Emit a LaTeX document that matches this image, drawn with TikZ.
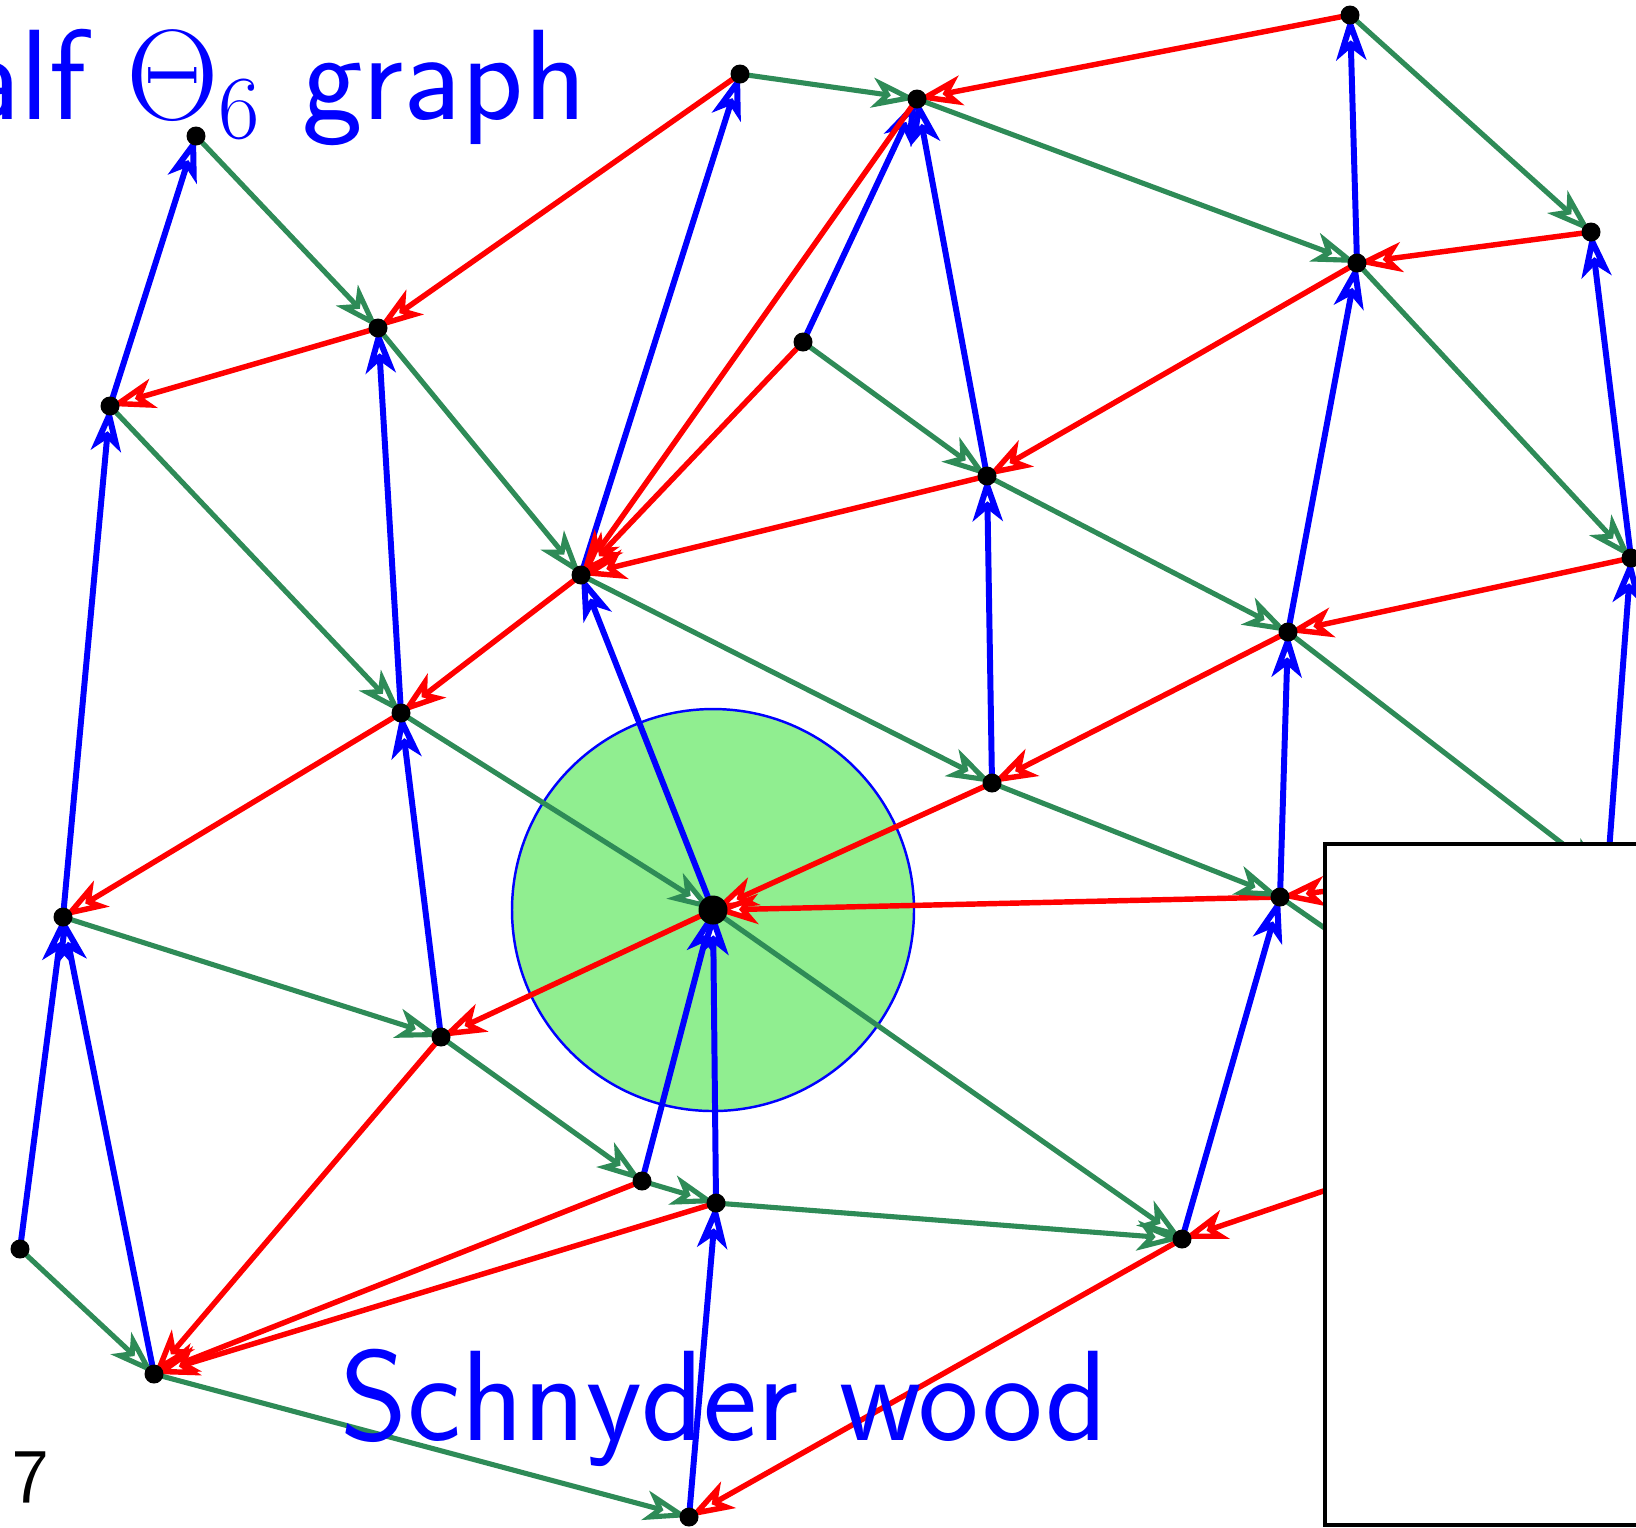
\RequirePackage{fix-cm}
\documentclass[tikz,border=0pt]{standalone}
\usepackage{tikz}
\usetikzlibrary{arrows.meta,backgrounds}
\definecolor{SWblue}{RGB}{0,0,255}
\definecolor{SWred}{RGB}{255,0,0}
\definecolor{SWgreen}{RGB}{46,139,87}
\definecolor{DiskGreen}{RGB}{144,238,144}
\tikzset{
  vtx/.style={circle,fill=black,minimum size=1.9mm,inner sep=0pt},
  hub/.style={vtx,minimum size=2.9mm},
  tb/.style={-{Stealth[length=4.5mm,width=3mm,inset=1.2mm,fill=white]},
             line width=1.7pt,SWblue},
  tr/.style={-{Stealth[length=4.5mm,width=3mm,inset=1.2mm,fill=white]},
             line width=1.55pt,SWred},
  tg/.style={-{Stealth[length=4.5mm,width=3mm,inset=1.2mm,fill=white]},
             line width=1.45pt,SWgreen},
  disk/.style={fill=DiskGreen,draw=SWblue,line width=0.7pt},
  cover/.style={fill=white,draw=black,line width=0.9pt},
  ttl/.style={text=SWblue,inner sep=0pt,
              font=\sffamily\fontsize{36.6}{44}\selectfont},
}

\begin{document}
\begin{tikzpicture}[x=0.1mm,y=-0.1mm]
  \useasboundingbox (0,0) rectangle (1636,1527);
  \clip (0,0) rectangle (1636,1527);
  % vertices
  \node[vtx] (a) at (196,136) {};
  \node[vtx] (b) at (740,74) {};
  \node[vtx] (c) at (917,99) {};
  \node[vtx] (d) at (1350,15) {};
  \node[vtx] (e) at (1591,232) {};
  \node[vtx] (f) at (1357,263) {};
  \node[vtx] (g) at (378,328) {};
  \node[vtx] (h) at (110,406) {};
  \node[vtx] (i) at (803,342) {};
  \node[vtx] (j) at (987,476) {};
  \node[vtx] (k) at (581,575) {};
  \node[vtx] (l) at (1631,558) {};
  \node[vtx] (m) at (1288,632) {};
  \node[vtx] (n) at (401,713) {};
  \node[vtx] (o) at (992,783) {};
  \node[hub] (p) at (713,910) {};
  \node[vtx] (q) at (1280,897) {};
  \node[vtx] (r) at (63,917) {};
  \node[vtx] (s) at (441,1037) {};
  \node[vtx] (t) at (642,1181) {};
  \node[vtx] (u) at (716,1203) {};
  \node[vtx] (v) at (1182,1239) {};
  \node[vtx] (w) at (20,1249) {};
  \node[vtx] (x) at (154,1374) {};
  \node[vtx] (y) at (689,1517) {};
  % ends hidden under the box
  \coordinate (z1) at (1607,878);
  \coordinate (z2) at (1520,866);
  \coordinate (z3) at (1480,1036);
  \coordinate (z4) at (1500,1131);

  \begin{scope}[on background layer]
    \draw[disk] (p.center) circle[radius=20.1mm];
    % three trees
    \foreach \s/\t in {h/a,r/h,w/r,x/r,n/g,s/n,k/b,p/k,i/c,j/c,o/j,f/d,
                       m/f,q/m,v/q,l/e,z1/l,t/p,u/p,y/u}
      \draw[tb] (\s.center) -- (\t.center);
    \foreach \s/\t in {b/g,g/h,c/k,i/k,j/k,d/c,e/f,f/j,l/m,m/o,k/n,n/r,
                       o/p,q/p,p/s,s/x,t/x,u/x,v/y,z2/q,z4/v}
      \draw[tr] (\s.center) -- (\t.center);
    \foreach \s/\t in {a/g,b/c,c/f,d/e,f/l,g/k,h/n,i/j,j/m,k/o,n/p,o/q,
                       m/z1,q/z3,p/v,r/s,s/t,t/u,u/v,w/x,x/y}
      \draw[tg] (\s.center) -- (\t.center);
  \end{scope}

  \draw[cover] (1325,844) rectangle (1700,1525);
  \node[ttl,anchor=base east] (title) at (587,119) {Half $\Theta_6$ graph};
  \node[ttl,anchor=base west] (wood) at (340,1440) {Schnyder wood};
  \node[inner sep=0pt,anchor=base west,
        font=\sffamily\fontsize{22}{26}\selectfont] (pageno) at (12,1502) {7};
\end{tikzpicture}
\end{document}
